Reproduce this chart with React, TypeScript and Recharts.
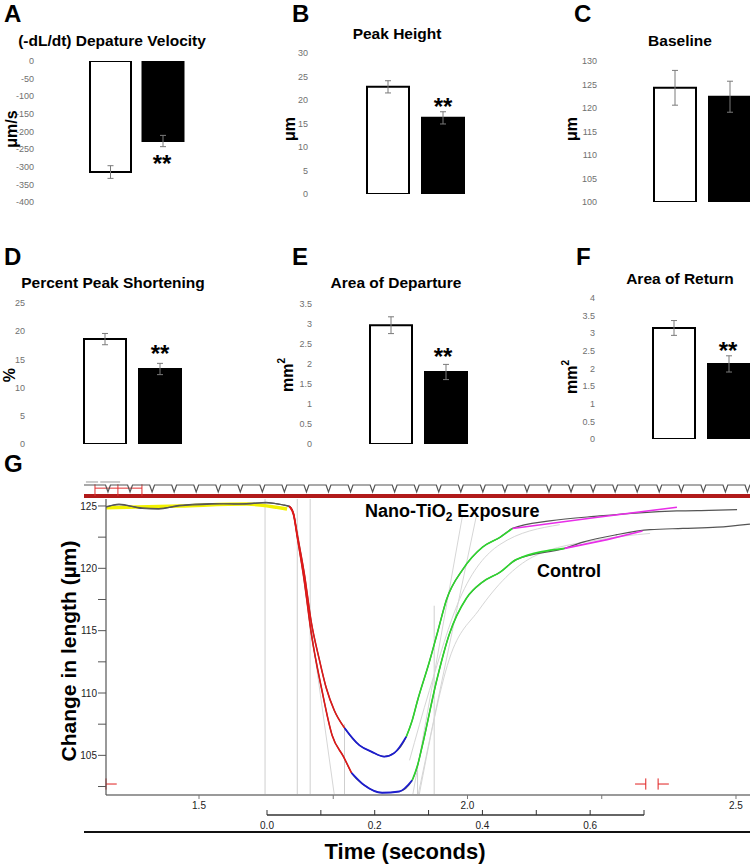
import React from 'react';
import { BarChart, Bar, XAxis, YAxis, ErrorBar, Cell, LineChart, Line, ReferenceLine } from 'recharts';

const FONT = "'Liberation Sans', Arial, Helvetica, sans-serif";

// ---------- Panels A–F (mean ± SEM) ----------
const groups = ['Control', 'Nano-TiO2'];
const velocityMean = [-315, -227];
const velocityErr = [18, 16];
const velocityTicks = [0, -50, -100, -150, -200, -250, -300, -350, -400];
const peakMean = [22.8, 16.2];
const peakErr = [1.3, 1.3];
const peakTicks = [0, 5, 10, 15, 20, 25, 30];
const baselineMean = [124.3, 122.4];
const baselineErr = [3.7, 3.3];
const baselineTicks = [100, 105, 110, 115, 120, 125, 130];
const shorteningMean = [18.6, 13.3];
const shorteningErr = [1.0, 1.0];
const shorteningTicks = [0, 5, 10, 15, 20, 25];
const departureMean = [2.97, 1.8];
const departureErr = [0.21, 0.19];
const departureTicks = [0, 0.5, 1, 1.5, 2, 2.5, 3, 3.5];
const returnMean = [3.15, 2.13];
const returnErr = [0.21, 0.23];
const returnTicks = [0, 0.5, 1, 1.5, 2, 2.5, 3, 3.5, 4];

// ---------- Panel G traces (time in s, length in µm) ----------
const nanoTime = [1.327, 1.351, 1.394, 1.425, 1.463, 1.524, 1.588, 1.625, 1.655, 1.668, 1.676, 1.683, 1.696, 1.709, 1.724, 1.737, 1.752, 1.771, 1.799, 1.821, 1.845, 1.864, 1.886, 1.897, 1.907, 1.929, 1.945, 1.961, 1.991, 2.028, 2.061, 2.084, 2.153, 2.246, 2.320, 2.390, 2.450, 2.502];
const nanoLength = [124.9, 125.15, 124.8, 124.75, 125.05, 125.2, 125.15, 125.3, 125.1, 125.0, 124.4, 122.7, 119.6, 115.7, 112.7, 110.4, 108.6, 107.2, 105.8, 105.3, 104.9, 105.2, 106.5, 107.8, 109.4, 112.5, 115.0, 117.5, 119.9, 121.7, 122.5, 123.2, 123.8, 124.2, 124.45, 124.6, 124.65, 124.7];
const controlTime = [1.327, 1.351, 1.394, 1.425, 1.463, 1.524, 1.588, 1.625, 1.655, 1.668, 1.676, 1.683, 1.696, 1.709, 1.729, 1.748, 1.769, 1.784, 1.808, 1.841, 1.873, 1.897, 1.907, 1.916, 1.942, 1.966, 1.998, 2.028, 2.061, 2.091, 2.181, 2.215, 2.278, 2.340, 2.401, 2.465, 2.526];
const controlLength = [124.95, 125.1, 124.85, 124.8, 125.0, 125.15, 125.2, 125.25, 125.1, 124.95, 124.3, 122.5, 119.0, 114.8, 110.2, 106.6, 104.9, 103.6, 102.6, 102.0, 102.1, 103.0, 104.2, 105.8, 110.9, 114.7, 117.6, 118.9, 119.7, 120.7, 121.6, 122.1, 122.7, 123.1, 123.2, 123.3, 123.55];
// phase boundaries of the analysis overlay (departure / bottom / return)
const nanoPhases = [1.668, 1.771, 1.886, 2.084];
const controlPhases = [1.668, 1.784, 1.897, 2.181];
// baseline fit (yellow)
const baseFitTime = [1.327, 1.465, 1.589, 1.664];
const baseFitLength = [124.85, 125.0, 125.15, 124.75];
// late return fits (magenta)
const nanoLateTime = [2.084, 2.235, 2.390];
const nanoLateLength = [123.2, 124.05, 124.9];
const controlLateTime = [2.181, 2.26, 2.326];
const controlLateLength = [121.6, 122.3, 123.0];
// faint fitting guides
const descGuideTime = [1.683, 1.752];
const descGuideLength = [123.2, 101.82];
const riseGuideATime = [1.898, 1.991];
const riseGuideALength = [101.82, 124.3];
const riseGuideBTime = [1.908, 2.017];
const riseGuideBLength = [101.82, 124.3];
const fitCurveATime = [1.910, 1.966, 2.022, 2.121, 2.246, 2.340];
const fitCurveALength = [101.82, 112.7, 116.7, 120.9, 122.3, 122.8];
const fitCurveBTime = [1.892, 1.929, 1.985, 2.06, 2.172];
const fitCurveBLength = [104.6, 110.2, 117.5, 121.9, 123.5];
// vertical event markers
const markerTime = [1.623, 1.683, 1.707, 1.771, 1.907, 1.938];
const markerTop = [125.56, 125.56, 125.56, 107.5, 104.0, 117.0];
// red cursors
const cursorTime = [1.3268, 2.332, 2.355];
const cursorDir = [1, -1, 1];
// axes
const timeTicks = [1.5, 1.75, 2.0, 2.25, 2.5];
const lengthTicks = [102.5, 105, 107.5, 110, 112.5, 115, 117.5, 120, 122.5, 125];
const relTicks = [0, 0.1, 0.2, 0.3, 0.4, 0.5, 0.6, 0.7];
const relSpan = [0, 0.7];
// stimulus strip
const pulses = [0, 1, 2, 3, 4, 5, 6, 7, 8, 9, 10, 11, 12, 13, 14, 15, 16, 17, 18, 19, 20, 21, 22, 23, 24, 25, 26, 27, 28, 29];

const T_DOMAIN: [number, number] = [1.3268, 2.5261];
const L_DOMAIN: [number, number] = [101.82, 125.56];
const STRIP_X: [number, number] = [-1.088, 29.116];

const pts = (ts: number[], vs: number[]) => ts.map((t, i) => ({ t, v: vs[i] }));
const seg = (p: { t: number; v: number }[], a: number, b: number) => p.filter((d) => d.t >= a - 1e-9 && d.t <= b + 1e-9);

const nano = pts(nanoTime, nanoLength);
const control = pts(controlTime, controlLength);

type Box = { x: number; y: number; w: number; h: number };
type Plot = { l: number; r: number; t: number; b: number };

function BarPanel(props: { box: Box; plot: Plot; labelRight: number; domain: [number, number]; ticks: number[]; mean: number[]; err: number[]; barSize: number }) {
  const { box, plot, labelRight, domain, ticks, mean, err, barSize } = props;
  const data = groups.map((g, i) => ({ g, m: mean[i], e: err[i] }));
  const yw = 30;
  const margin = { top: plot.t - box.y, bottom: box.y + box.h - plot.b, left: plot.l - box.x - yw, right: box.x + box.w - plot.r };
  return (
    <div style={{ position: 'absolute', left: box.x, top: box.y }}>
      <BarChart width={box.w} height={box.h} data={data} margin={margin} barCategoryGap={0}>
        <XAxis dataKey="g" hide />
        <YAxis width={yw} type="number" domain={domain} ticks={ticks} interval={0} axisLine={false} tickLine={false} tickSize={0} tickMargin={plot.l - labelRight} allowDataOverflow tick={{ fill: '#707070', fontSize: 9, fontFamily: FONT }} />
        <Bar dataKey="m" barSize={barSize} isAnimationActive={false} stroke="#000" strokeWidth={2}>
          {data.map((d, i) => (
            <Cell key={d.g} fill={i === 0 ? '#ffffff' : '#000000'} />
          ))}
          <ErrorBar dataKey="e" width={3} stroke="#7a7a7a" strokeWidth={1} direction="y" />
        </Bar>
      </BarChart>
    </div>
  );
}

const traceLine = (key: string, data: { t: number; v: number }[], color: string, width: number, type: any = 'monotone') => (
  <Line key={key} data={data} dataKey="v" type={type} stroke={color} strokeWidth={width} dot={false} activeDot={false} isAnimationActive={false} />
);

function TracePanel() {
  const stripData = [
    { p: STRIP_X[0], v: 0 },
    ...pulses.flatMap((p) => [
      { p: p - 0.11, v: 0 },
      { p, v: -1 },
      { p: p + 0.11, v: 0 },
    ]),
    { p: STRIP_X[1], v: 0 },
  ];
  return (
    <>
      <div style={{ position: 'absolute', left: 0, top: 470 }}>
        <LineChart width={750} height={360} margin={{ top: 29, right: 0, bottom: 5, left: 46 }}>
          <XAxis type="number" dataKey="t" domain={T_DOMAIN} allowDataOverflow ticks={timeTicks} interval={0} height={30}
            tickFormatter={(v: number) => (Math.abs(v * 2 - Math.round(v * 2)) < 1e-6 ? v.toFixed(1) : '')}
            axisLine={{ stroke: '#9a9a9a', strokeWidth: 2 }} tickLine={{ stroke: '#777' }} tickSize={4} tickMargin={3}
            tick={{ fontSize: 10, fill: '#222', fontFamily: FONT }} />
          <YAxis type="number" dataKey="v" domain={L_DOMAIN} allowDataOverflow ticks={lengthTicks} interval={0} width={60}
            tickFormatter={(v: number) => (v % 5 === 0 ? String(v) : '')}
            axisLine={{ stroke: '#555', strokeWidth: 1.2 }} tickLine={{ stroke: '#555' }} tickSize={8} tickMargin={1}
            tick={{ fontSize: 10, fill: '#222', fontFamily: FONT }} />
          {markerTime.map((t, i) => (
            <ReferenceLine key={'m' + i} segment={[{ x: t, y: markerTop[i] }, { x: t, y: L_DOMAIN[0] }]} stroke="#cfcfcf" strokeWidth={1} ifOverflow="visible" />
          ))}
          {traceLine('g1', pts(descGuideTime, descGuideLength), '#d6d6d6', 1, 'linear')}
          {traceLine('g2', pts(riseGuideATime, riseGuideALength), '#d6d6d6', 1, 'linear')}
          {traceLine('g3', pts(riseGuideBTime, riseGuideBLength), '#d6d6d6', 1, 'linear')}
          {traceLine('g4', pts(fitCurveATime, fitCurveALength), '#d6d6d6', 1)}
          {traceLine('g5', pts(fitCurveBTime, fitCurveBLength), '#d6d6d6', 1)}
          {traceLine('yb', pts(baseFitTime, baseFitLength), '#f2f200', 3.5)}
          {traceLine('nraw', nano, '#555', 1.2)}
          {traceLine('craw', control, '#555', 1.2)}
          {traceLine('nr', seg(nano, nanoPhases[0], nanoPhases[1]), '#e01818', 1.6)}
          {traceLine('cr', seg(control, controlPhases[0], controlPhases[1]), '#e01818', 1.6)}
          {traceLine('nb', seg(nano, nanoPhases[1], nanoPhases[2]), '#1c1ccf', 1.8)}
          {traceLine('cb', seg(control, controlPhases[1], controlPhases[2]), '#1c1ccf', 1.8)}
          {traceLine('ng', seg(nano, nanoPhases[2], nanoPhases[3]), '#2ed62e', 1.6)}
          {traceLine('cg', seg(control, controlPhases[2], controlPhases[3]), '#2ed62e', 1.6)}
          {traceLine('nm', pts(nanoLateTime, nanoLateLength), '#e82ee8', 1.6, 'linear')}
          {traceLine('cm', pts(controlLateTime, controlLateLength), '#e82ee8', 1.6, 'linear')}
          {cursorTime.map((t, i) => (
            <ReferenceLine key={'cv' + i} segment={[{ x: t, y: 102.25 }, { x: t, y: 103.15 }]} stroke="#e02020" strokeWidth={1} ifOverflow="visible" />
          ))}
          {cursorTime.map((t, i) => (
            <ReferenceLine key={'ch' + i} segment={[{ x: t, y: 102.7 }, { x: t + cursorDir[i] * 0.02, y: 102.7 }]} stroke="#e02020" strokeWidth={1} ifOverflow="visible" />
          ))}
        </LineChart>
      </div>

      <div style={{ position: 'absolute', left: 84, top: 478 }}>
        <LineChart width={666} height={22} margin={{ top: 0, right: 0, bottom: 0, left: 0 }}>
          <XAxis type="number" dataKey="p" domain={STRIP_X} hide allowDataOverflow />
          <YAxis type="number" domain={[-2.143, 1]} hide allowDataOverflow />
          <ReferenceLine y={-1.571} stroke="#b11a1a" strokeWidth={4} />
          <ReferenceLine segment={[{ x: -1.0, y: 0.43 }, { x: -0.45, y: 0.43 }]} stroke="#999" strokeWidth={1} />
          <ReferenceLine segment={[{ x: -0.35, y: 0.43 }, { x: 0.55, y: 0.43 }]} stroke="#999" strokeWidth={1} />
          {[-0.59, 0.45, 1.54].map((x, i) => (
            <ReferenceLine key={'rb' + i} segment={[{ x, y: 0.1 }, { x, y: -1.571 }]} stroke="#e03030" strokeWidth={1} />
          ))}
          <ReferenceLine segment={[{ x: -0.59, y: -0.45 }, { x: 1.54, y: -0.45 }]} stroke="#e03030" strokeWidth={1} />
          <Line data={stripData} dataKey="v" type="linear" stroke="#555" strokeWidth={1.2} dot={false} activeDot={false} isAnimationActive={false} />
        </LineChart>
      </div>

      <div style={{ position: 'absolute', left: 200, top: 801 }}>
        <LineChart width={470} height={34} margin={{ top: 0, right: 26, bottom: 0, left: 67 }}>
          <XAxis type="number" dataKey="s" domain={[0, 0.7]} ticks={relTicks} interval={0} height={20} allowDataOverflow
            tickFormatter={(v: number) => (Math.round(v * 10) % 2 === 0 && v < 0.65 ? v.toFixed(1) : '')}
            axisLine={{ stroke: '#333', strokeWidth: 1.5 }} tickLine={{ stroke: '#333' }} tickSize={-5} tickMargin={12}
            tick={{ fontSize: 10, fill: '#222', fontFamily: FONT }} />
          <YAxis hide domain={[0, 1]} />
          <Line data={relSpan.map((s) => ({ s, v: 0 }))} dataKey="v" stroke="none" dot={false} activeDot={false} isAnimationActive={false} />
        </LineChart>
      </div>

      <div style={{ position: 'absolute', left: 84, top: 831, width: 666, height: 2, background: '#111' }} />
    </>
  );
}

function Overlay() {
  const letter = { fontFamily: FONT, fontWeight: 700, fontSize: 24, fill: '#000' } as const;
  const title = { fontFamily: FONT, fontWeight: 700, fontSize: 15.5, fill: '#000', textAnchor: 'middle' } as const;
  const ylab = { fontFamily: FONT, fontWeight: 700, fontSize: 16, fill: '#000', textAnchor: 'middle', dominantBaseline: 'central' } as const;
  const star = { fontFamily: FONT, fontWeight: 700, fontSize: 24, fill: '#000', textAnchor: 'middle' } as const;
  const rot = (x: number, y: number) => `rotate(-90 ${x} ${y})`;
  return (
    <svg width={750} height={864} style={{ position: 'absolute', left: 0, top: 0, pointerEvents: 'none' }}>
      <text x={4} y={22} {...letter}>A</text>
      <text x={292} y={22} {...letter}>B</text>
      <text x={574} y={22} {...letter}>C</text>
      <text x={4} y={265} {...letter}>D</text>
      <text x={292} y={265} {...letter}>E</text>
      <text x={576} y={265} {...letter}>F</text>
      <text x={4} y={472} {...letter}>G</text>

      <text x={112} y={46} {...title}>(-dL/dt) Depature Velocity</text>
      <text x={397} y={39} {...title}>Peak Height</text>
      <text x={680} y={46} {...title}>Baseline</text>
      <text x={113} y={288} {...title}>Percent Peak Shortening</text>
      <text x={396} y={288} {...title}>Area of Departure</text>
      <text x={680} y={284} {...title}>Area of Return</text>

      <text x={11} y={129} transform={rot(11, 129)} {...ylab}>μm/s</text>
      <text x={289} y={129} transform={rot(289, 129)} {...ylab}>μm</text>
      <text x={571} y={129} transform={rot(571, 129)} {...ylab}>μm</text>
      <text x={9} y={375} transform={rot(9, 375)} {...ylab}>%</text>
      <text x={287} y={375} transform={rot(287, 375)} {...ylab}>mm<tspan fontSize={10} dy={-6}>2</tspan></text>
      <text x={571} y={377} transform={rot(571, 377)} {...ylab}>mm<tspan fontSize={10} dy={-6}>2</tspan></text>

      <text x={162} y={172} {...star}>**</text>
      <text x={443} y={115} {...star}>**</text>
      <text x={160} y={362} {...star}>**</text>
      <text x={443} y={365} {...star}>**</text>
      <text x={728} y={359} {...star}>**</text>

      <text x={365} y={517} fontFamily={FONT} fontWeight={700} fontSize={18} fill="#000">
        Nano-TiO<tspan fontSize={12} dy={4}>2</tspan><tspan dy={-4}> Exposure</tspan>
      </text>
      <text x={537} y={577} fontFamily={FONT} fontWeight={700} fontSize={18} fill="#000">Control</text>
      <text x={68} y={651} transform={rot(68, 651)} fontFamily={FONT} fontWeight={700} fontSize={21} fill="#000" textAnchor="middle" dominantBaseline="central">Change in length (µm)</text>
      <text x={405} y={859} fontFamily={FONT} fontWeight={700} fontSize={22} fill="#000" textAnchor="middle">Time (seconds)</text>
    </svg>
  );
}

export default function App() {
  return (
    <div style={{ position: 'absolute', left: 0, top: 0, width: 750, height: 864, overflow: 'hidden', background: '#fff', fontFamily: FONT }}>
      <BarPanel box={{ x: 0, y: 0, w: 250, h: 215 }} plot={{ l: 84, r: 189, t: 61, b: 202 }} labelRight={34} domain={[-400, 0]} ticks={velocityTicks} mean={velocityMean} err={velocityErr} barSize={41} />
      <BarPanel box={{ x: 250, y: 0, w: 250, h: 215 }} plot={{ l: 360, r: 470, t: 53, b: 194 }} labelRight={308} domain={[0, 30]} ticks={peakTicks} mean={peakMean} err={peakErr} barSize={42} />
      <BarPanel box={{ x: 500, y: 0, w: 260, h: 215 }} plot={{ l: 647, r: 757, t: 61, b: 202 }} labelRight={597} domain={[100, 130]} ticks={baselineTicks} mean={baselineMean} err={baselineErr} barSize={42} />
      <BarPanel box={{ x: 0, y: 225, w: 250, h: 230 }} plot={{ l: 77, r: 187, t: 303, b: 444 }} labelRight={25} domain={[0, 25]} ticks={shorteningTicks} mean={shorteningMean} err={shorteningErr} barSize={42} />
      <BarPanel box={{ x: 250, y: 225, w: 250, h: 230 }} plot={{ l: 363, r: 473, t: 304, b: 444 }} labelRight={312} domain={[0, 3.5]} ticks={departureTicks} mean={departureMean} err={departureErr} barSize={42} />
      <BarPanel box={{ x: 500, y: 225, w: 260, h: 230 }} plot={{ l: 646, r: 756, t: 298, b: 439 }} labelRight={595} domain={[0, 4]} ticks={returnTicks} mean={returnMean} err={returnErr} barSize={42} />
      <TracePanel />
      <Overlay />
    </div>
  );
}
